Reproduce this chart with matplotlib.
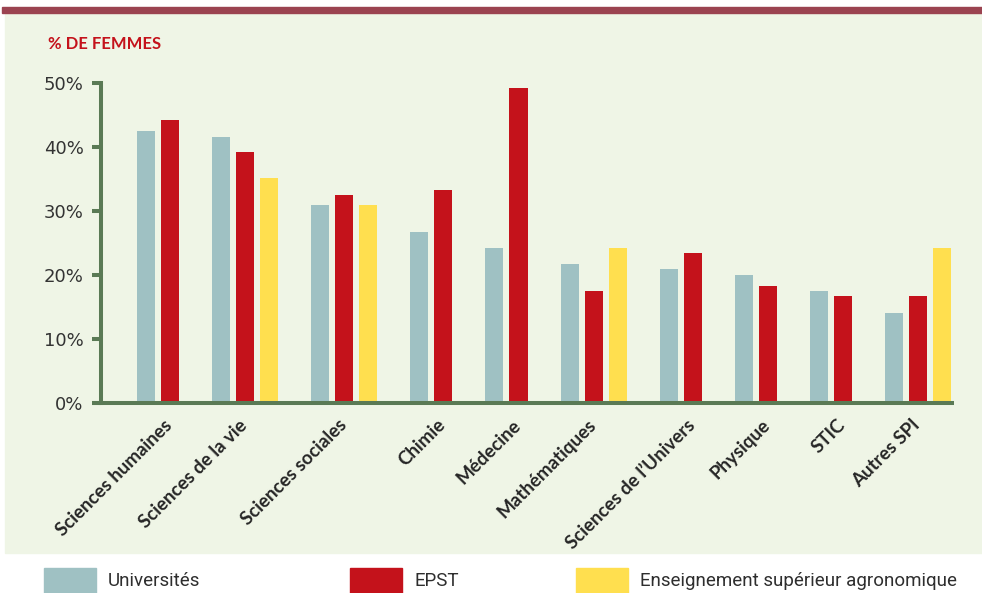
import numpy as np
import matplotlib.pyplot as plt
from matplotlib.patches import Rectangle

# données (% de femmes)
disciplines = ["Sciences humaines", "Sciences de la vie", "Sciences sociales", "Chimie",
               "Médecine", "Mathématiques", "Sciences de l’Univers", "Physique", "STIC",
               "Autres SPI"]
universites = [42.5, 41.5, 30.9, 26.7, 24.2, 21.7, 20.9, 20.0, 17.4, 14.0]
epst = [44.2, 39.2, 32.5, 33.3, 49.2, 17.4, 23.4, 18.2, 16.6, 16.6]
agro = [None, 35.1, 30.9, None, None, 24.2, None, None, None, 24.2]
series_names = ["Universités", "EPST", "Enseignement supérieur agronomique"]
yticks = [0, 10, 20, 30, 40, 50]

colors = ["#9fc1c3", "#c4121b", "#ffdf4f"]
green = "#5a7a55"
W, H = 982, 593

fig = plt.figure(figsize=(W / 100, H / 100), dpi=100, facecolor="white")

# fond et bandeau
fig.add_artist(Rectangle((5 / W, 1 - 553 / H), 1, (553 - 13) / H, transform=fig.transFigure,
                         color="#eff5e6", zorder=0))
fig.add_artist(Rectangle((2 / W, 1 - 12.5 / H), 1, 5.5 / H, transform=fig.transFigure,
                         color="#9b4350", zorder=0))

ax = fig.add_axes([101 / W, 1 - 402.5 / H, (954 - 101) / W, (402.5 - 83) / H])
ax.set_facecolor("none")

series = [universites, epst, agro]
bw = 0.75
start = 0.0
ticks = []
for i in range(len(disciplines)):
    k = 0
    for s, vals in enumerate(series):
        if vals[i] is not None:
            ax.bar(start + k, vals[i], width=bw, align="edge", color=colors[s], zorder=2)
            k += 1
    ticks.append(start + 1.1)
    start += k + 1.125

ax.set_xlim(-1.5, start - 1.125 - 0.25 + 0.125)
ax.set_ylim(0, 50)

for side in ["top", "right", "bottom"]:
    ax.spines[side].set_visible(False)
ax.spines["left"].set_color(green)
ax.spines["left"].set_linewidth(2.9)
ax.plot([-9 / 853, 1], [0, 0], transform=ax.get_yaxis_transform(), color=green, lw=2.9,
        clip_on=False, solid_capstyle="butt", zorder=3)

ax.set_yticks(yticks)
ax.set_yticklabels([f"{v}%" for v in yticks])
ax.tick_params(axis="y", direction="out", length=6.5, width=2.9, color=green, pad=6,
               labelsize=13, labelcolor="#333333")
for t in ax.get_yticklabels():
    t.set_fontfamily("DejaVu Sans")

ax.set_xticks(ticks)
ax.set_xticklabels(disciplines, rotation=45, ha="right", rotation_mode="anchor",
                   fontweight="bold", fontsize=13.5, color="#262626", family="Lato")
ax.tick_params(axis="x", length=0, pad=10)

fig.text(48 / W, 1 - 44 / H, "% DE FEMMES", color="#c4121b", fontsize=12,
         fontweight="bold", va="center", ha="left", family="Lato")

# légende
leg_x = [44, 350, 576]
for x, name, c in zip(leg_x, series_names, colors):
    fig.add_artist(Rectangle((x / W, 0), 52 / W, (593 - 568) / H, transform=fig.transFigure,
                             color=c, zorder=1))
    fig.text((x + 64) / W, 1 - 581 / H, name, fontsize=13.5, color="#2e2e2e", va="center",
             ha="left", family="Roboto")

fig.savefig("out.png", dpi=100, facecolor="white")
